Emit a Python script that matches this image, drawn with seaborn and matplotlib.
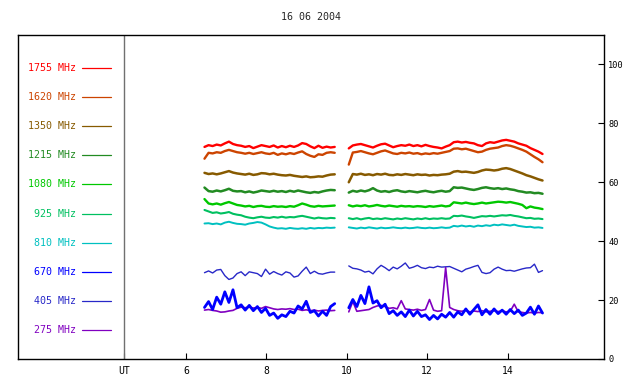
import numpy as np
import pandas as pd
import matplotlib
matplotlib.use("Agg")
import matplotlib.pyplot as plt
import seaborn as sns
from matplotlib.lines import Line2D

# ---------------- data ----------------
title = "16 06 2004"
labels = ["1755 MHz", "1620 MHz", "1350 MHz", "1215 MHz", "1080 MHz",
          "925 MHz", "810 MHz", "670 MHz", "405 MHz", "275 MHz"]
colors = ["#ff0000", "#cc4400", "#875a00", "#228b22", "#00c800",
          "#00c060", "#00c0c0", "#0000ff", "#2828c8", "#8000c0"]

xticks = [6, 8, 10, 12, 14]
yticks = [0, 20, 40, 60, 80, 100]

# time grids of the two observation blocks (UT hours)
t1 = np.linspace(6.46, 9.70, 33)
t2 = np.linspace(10.05, 14.87, 49)

red_a = [72.0, 72.6, 72.3, 72.8, 72.5, 73.2, 73.8, 73.0, 72.6, 72.4, 72.0, 72.3, 71.6, 72.1, 72.6, 72.3,
         72.0, 72.5, 71.8, 72.3, 71.9, 72.4, 72.0, 72.5, 73.3, 73.0, 72.2, 71.6, 72.4, 71.7, 72.1, 71.8, 72.0]
red_b = [71.5, 72.5, 72.8, 73.0, 72.6, 72.2, 71.8, 72.4, 72.9, 73.1, 72.5, 71.9, 72.3, 72.6, 72.4, 72.8,
         72.3, 72.6, 72.2, 72.7, 72.3, 72.0, 71.8, 71.5, 72.1, 72.6, 73.6, 73.8, 73.5, 73.7, 73.4, 73.2,
         72.6, 72.3, 73.2, 73.6, 73.4, 73.8, 74.2, 74.4, 74.1, 73.8, 73.2, 72.8, 72.4, 71.6, 71.0, 70.4, 69.6]

orange_a = [68.0, 70.0, 69.8, 70.2, 70.0, 70.6, 71.0, 70.6, 70.2, 70.0, 69.7, 70.0, 69.6, 69.9, 70.2, 69.8,
            69.6, 70.0, 69.3, 69.8, 69.5, 69.9, 69.6, 70.1, 70.5, 69.6, 69.0, 68.6, 69.5, 69.3, 70.0, 70.2, 70.0]
orange_b = [66.0, 70.1, 70.3, 70.6, 70.2, 69.8, 69.5, 70.0, 70.5, 70.8, 70.3, 69.8, 69.6, 70.0, 69.8, 70.1,
            69.7, 69.9, 69.5, 69.8, 69.6, 69.9, 69.7, 70.0, 70.3, 70.6, 71.4, 71.5, 71.2, 71.4, 71.0, 70.6,
            70.2, 70.4, 71.0, 71.4, 71.6, 71.8, 72.3, 72.6, 72.4, 72.0, 71.5, 71.0, 70.4, 69.5, 68.6, 67.8, 66.8]

brown_a = [63.2, 62.8, 63.0, 62.7, 63.0, 63.4, 63.8, 63.3, 63.0, 62.8, 62.6, 62.9, 62.5, 62.7, 63.1, 63.0,
           62.7, 62.9, 62.6, 62.4, 62.3, 62.5, 62.2, 62.0, 61.8, 62.0, 61.7, 61.8, 62.0, 61.9, 62.3, 62.6, 62.7]
brown_b = [60.0, 62.8, 62.6, 62.9, 62.5, 62.7, 62.4, 62.8, 62.6, 62.9, 62.5, 62.4, 62.7, 62.5, 62.8, 62.6,
           62.4, 62.7, 62.5, 62.6, 62.3, 62.5, 62.4, 62.6, 62.7, 62.9, 63.6, 63.8, 63.5, 63.6, 63.4, 63.2,
           63.5, 64.0, 64.3, 64.2, 64.0, 64.2, 64.6, 64.8, 64.5, 64.0, 63.5, 63.0, 62.4, 62.0, 61.5, 61.0, 60.6]

forest_a = [58.2, 57.0, 56.8, 57.2, 56.9, 57.3, 57.8, 57.1, 56.9, 57.0, 56.6, 56.9, 56.5, 56.8, 57.2, 57.0,
            56.8, 57.1, 56.8, 57.0, 56.7, 57.1, 56.8, 57.2, 56.9, 56.6, 56.4, 56.7, 56.5, 56.9, 57.2, 57.4, 57.3]
forest_b = [56.5, 57.1, 56.8, 57.2, 56.9, 57.3, 58.0, 57.2, 56.8, 57.0, 56.7, 57.1, 57.3, 56.9, 56.7, 57.0,
            56.8, 56.6, 56.9, 57.1, 56.8, 56.6, 56.9, 57.1, 56.8, 57.0, 58.3, 58.1, 58.2, 57.9, 57.6, 57.4,
            57.7, 58.1, 58.3, 58.0, 57.8, 58.0, 57.7, 57.9, 57.6, 57.4, 57.0, 56.8, 56.5, 56.6, 56.3, 56.4, 56.1]

green_a = [54.3, 52.8, 52.5, 52.8, 52.4, 52.9, 53.3, 52.8, 52.3, 52.1, 51.8, 52.0, 51.6, 51.9, 52.0, 51.7,
           51.6, 51.9, 51.7, 51.8, 51.6, 51.9, 51.7, 52.2, 52.8, 52.4, 51.9, 51.7, 52.0, 51.8, 51.9, 52.0, 52.1]
green_b = [52.2, 51.8, 52.1, 51.9, 52.2, 51.8, 52.0, 52.3, 52.0, 51.8, 52.1, 51.9, 51.7, 52.0, 51.8, 51.9,
           51.7, 51.9, 51.8, 51.6, 51.9, 51.7, 51.9, 52.1, 51.8, 52.0, 53.2, 53.0, 52.8, 53.1, 52.8, 52.6,
           52.8, 53.1, 52.8, 53.0, 53.2, 53.4, 53.3, 53.1, 53.3, 53.0, 52.7, 52.3, 51.2, 51.8, 51.4, 51.2, 50.9]

teal_a = [50.6, 50.1, 49.6, 49.8, 49.4, 49.6, 49.9, 49.3, 49.0, 48.8, 48.3, 48.0, 47.8, 48.1, 48.3, 48.0,
          47.9, 48.2, 48.0, 48.3, 48.0, 48.2, 48.1, 48.4, 48.6, 48.3, 48.0, 47.7, 48.0, 47.8, 47.7, 47.9, 47.8]
teal_b = [47.8, 47.5, 47.8, 47.4, 47.7, 47.9, 47.5, 47.7, 47.5, 47.8, 47.6, 47.4, 47.7, 47.5, 47.8, 47.6,
          47.4, 47.7, 47.5, 47.8, 47.5, 47.7, 47.6, 47.8, 47.6, 47.7, 48.6, 48.5, 48.7, 48.4, 48.2, 47.9,
          48.2, 48.5, 48.4, 48.6, 48.4, 48.6, 48.8, 48.7, 48.9, 48.6, 48.4, 48.1, 47.8, 47.9, 47.6, 47.7, 47.5]

cyan_a = [46.0, 46.1, 45.8, 46.0, 45.7, 46.3, 46.6, 46.2, 45.9, 45.8, 45.6, 46.0, 46.2, 46.5, 46.3, 45.7,
          45.0, 44.6, 44.3, 44.4, 44.2, 44.5, 44.3, 44.2, 44.4, 44.2, 44.5, 44.3, 44.5, 44.4, 44.6, 44.5, 44.6]
cyan_b = [44.7, 44.5, 44.3, 44.6, 44.4, 44.7, 44.5, 44.3, 44.6, 44.4, 44.5, 44.7, 44.5, 44.4, 44.6, 44.4,
          44.5, 44.7, 44.5, 44.4, 44.6, 44.4, 44.5, 44.7, 44.5, 44.6, 45.2, 45.0, 45.3, 45.0, 45.2, 44.9,
          45.3, 45.1, 45.4, 45.2, 45.6, 45.4, 45.7, 45.5, 45.3, 45.6, 45.2, 45.0, 44.8, 44.9, 44.6, 44.7, 44.5]

navy_a = [29.3, 29.9, 29.2, 30.2, 30.4, 28.3, 27.0, 27.5, 29.0, 29.6, 28.3, 29.6, 29.3, 29.0, 28.0, 30.5,
          28.8, 29.7, 29.0, 28.5, 29.6, 29.2, 27.8, 28.2, 29.8, 31.2, 29.0, 29.8, 29.0, 28.8, 29.2, 29.5, 29.5]
navy_b = [31.6, 30.8, 30.6, 30.2, 29.5, 29.8, 28.9, 30.6, 31.8, 31.0, 30.0, 31.2, 30.6, 31.5, 32.6, 30.8,
          31.2, 31.8, 31.0, 30.7, 31.2, 31.0, 31.5, 31.2, 31.3, 31.4, 30.8, 30.2, 29.6, 30.5, 30.9, 31.4,
          31.8, 29.4, 29.0, 29.3, 30.5, 31.2, 30.5, 30.0, 30.1, 29.8, 30.2, 30.6, 30.9, 31.0, 32.2, 29.4, 30.0]

blue_a = [17.5, 19.5, 16.8, 21.0, 18.6, 22.8, 19.2, 23.5, 17.4, 18.4, 16.6, 18.2, 16.4, 17.8, 15.8, 17.2,
          14.8, 15.6, 13.8, 15.0, 14.4, 16.2, 15.6, 18.0, 17.0, 19.6, 15.8, 16.4, 14.6, 16.2, 14.8, 17.8, 18.8]
blue_b = [17.4, 20.2, 17.8, 21.6, 18.8, 24.5, 19.0, 19.8, 17.4, 18.6, 15.4, 16.4, 14.8, 16.0, 14.4, 16.6,
          14.6, 16.2, 14.4, 15.0, 13.4, 14.8, 13.6, 15.2, 14.2, 15.8, 14.2, 16.0, 15.0, 17.0, 15.2, 16.8,
          18.4, 15.0, 16.8, 15.2, 17.0, 15.4, 16.6, 15.2, 16.8, 15.4, 16.6, 14.8, 15.6, 17.6, 15.2, 18.0, 15.6]

purple_a = [16.6, 16.8, 16.5, 16.3, 15.9, 16.0, 16.3, 16.5, 17.2, 17.6, 17.4, 17.6, 17.3, 17.5, 17.2, 17.8,
            17.4, 17.0, 16.8, 17.0, 16.9, 17.1, 16.8, 16.9, 16.5, 16.7, 16.4, 16.6, 16.3, 16.5, 16.6, 16.4, 16.5]
purple_b = [16.0, 19.5, 16.2, 16.4, 16.6, 16.8, 17.5, 18.0, 18.2, 17.8, 17.2, 17.4, 17.0, 19.8, 17.0, 16.8,
            16.6, 16.9, 16.5, 16.8, 20.2, 16.6, 16.2, 16.4, 31.0, 17.5, 16.8, 16.4, 16.2, 16.5, 16.0, 16.3,
            16.1, 16.4, 16.0, 16.2, 16.4, 16.1, 16.3, 16.0, 16.2, 18.6, 16.0, 15.8, 15.6, 15.8, 15.6, 15.8, 15.7]

# (colour, line width, block A, block B) in drawing order
series = [
    ("#ff0000", 1.7, red_a, red_b),
    ("#cc4400", 1.7, orange_a, orange_b),
    ("#875a00", 1.8, brown_a, brown_b),
    ("#228b22", 1.8, forest_a, forest_b),
    ("#00c800", 1.7, green_a, green_b),
    ("#00c060", 1.5, teal_a, teal_b),
    ("#00c0c0", 1.4, cyan_a, cyan_b),
    ("#2828c8", 1.0, navy_a, navy_b),
    ("#8000c0", 1.2, purple_a, purple_b),
    ("#0000ff", 2.0, blue_a, blue_b),
]

# ---------------- figure ----------------
sns.set_style("white")
plt.rcParams["font.family"] = ["DejaVu Sans Mono"]

fig = plt.figure(figsize=(6.4, 3.84), dpi=100)
ax = fig.add_axes([18 / 640, 25 / 384, 586 / 640, 324 / 384])

for k, (col, lw, ya, yb) in enumerate(series):
    for t, y in ((t1, ya), (t2, yb)):
        df = pd.DataFrame({"UT": t, "flux": y})
        sns.lineplot(data=df, x="UT", y="flux", color=col, lw=lw, ax=ax,
                     estimator=None, sort=False, legend=False)

ax.set_xlim(1.82, 16.40)
ax.set_ylim(0, 110)

ut_pos = 4.46
ax.axvline(ut_pos, color="#707070", lw=1.0)

ax.set_xticks([ut_pos] + xticks)
ax.set_xticklabels(["UT"] + [str(v) for v in xticks])
ax.xaxis.get_major_ticks()[0].tick1line.set_visible(False)
ax.tick_params(axis="x", direction="in", length=4, width=0.8, pad=5,
               labelsize=7, colors="black", top=False, bottom=True)

ax.yaxis.tick_right()
ax.set_yticks(yticks)
ax.set_yticklabels([str(v) for v in yticks])
ax.tick_params(axis="y", direction="in", length=4, width=0.8, pad=3,
               labelsize=6.2, colors="black", left=False, right=True)

ax.set_xlabel("")
ax.set_ylabel("")
for sp in ax.spines.values():
    sp.set_visible(True)
    sp.set_color("black")
    sp.set_linewidth(1.0)

# legend keys on the left
for i, (lab, col) in enumerate(zip(labels, colors)):
    yfrac = (359 - (67.7 + 29.18 * i)) / 324
    ax.text(0.099, yfrac, lab, color=col, fontsize=7.2, ha="right", va="center",
            transform=ax.transAxes)
    ax.add_line(Line2D([0.1092, 0.1587], [yfrac, yfrac], color=col, lw=0.9,
                       transform=ax.transAxes))

fig.text(311 / 640, 1 - 17.3 / 384, title, fontsize=7.2, ha="center", va="center")

fig.savefig("out.png", dpi=100)
